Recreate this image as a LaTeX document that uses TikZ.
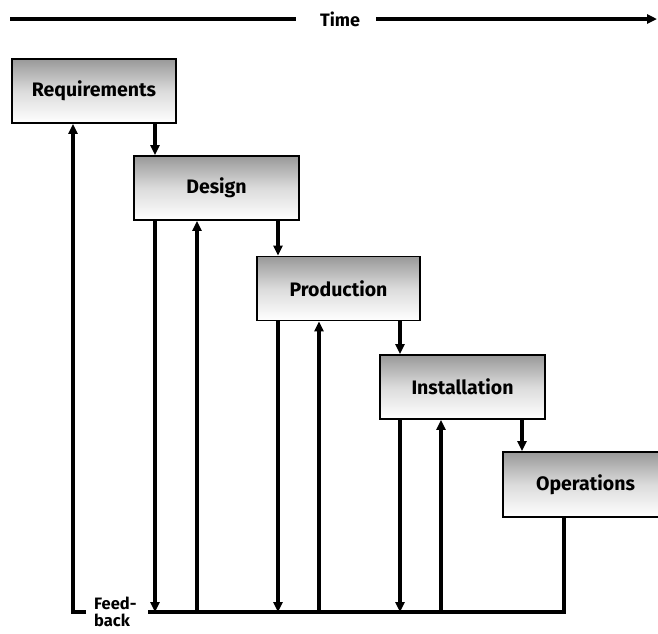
\documentclass[tikz,border=0pt]{standalone}
\usepackage{fontspec}
\setmainfont{Fira Sans}
\usetikzlibrary{arrows.meta}
\begin{document}
\begin{tikzpicture}[x=1pt,y=-1pt,
  stage/.style={draw=black,line width=1.8pt,top color=black!40,bottom color=white,middle color=black!14,
    minimum height=64pt,inner sep=0pt,font=\fontsize{19.5}{21}\selectfont\bfseries},
  line/.style={line width=3.4pt},
  arr/.style={line width=3.2pt,-{Triangle[length=10pt,width=9pt]}},
  lbl/.style={font=\fontsize{18}{18}\selectfont\bfseries,inner sep=0pt}]
\useasboundingbox (0,0) rectangle (658,633);
% time axis
\node[lbl] (time) at (340,19) {Time};
\coordinate (tl) at (10,19);
\coordinate (tr) at (657,19);
\draw[line] (tl) -- ([xshift=-24pt]time.west);
\draw[arr] ([xshift=16pt]time.east) -- (tr);
% stages
\node[stage,minimum width=164pt] (req) at (94,91) {Requirements};
\node[stage,minimum width=165pt] (des) at (216.5,188) {Design};
\node[stage,minimum width=163pt] (pro) at (338.5,288.5) {Production};
\node[stage,minimum width=165pt] (ins) at (462.5,387) {Installation};
\node[stage,minimum width=165pt,minimum height=65pt] (ops) at (585.5,484.5) {Operations};
% feedback bus coordinates
\coordinate (fL) at (73,612);
\coordinate (fLf) at (86,612);
\coordinate (d1) at (155,612);
\coordinate (u1) at (197,612);
\coordinate (d2) at (278,612);
\coordinate (u2) at (319,612);
\coordinate (d3) at (400,612);
\coordinate (u3) at (441,612);
\coordinate (fR) at (564,612);
\coordinate (fS) at (148,612);
\node[lbl,font=\fontsize{16.5}{16.5}\selectfont\bfseries,align=left,anchor=west] (fb) at (94,612) {Feed-\\back};
% forward arrows
\draw[arr] (req.south -| d1) -- (des.north -| d1);
\draw[arr] (des.south -| d2) -- (pro.north -| d2);
\draw[arr] (pro.south -| d3) -- (ins.north -| d3);
\draw[arr] (ins.south -| 522,0) -- (ops.north -| 522,0);
% down arrows to feedback bus
\draw[arr] (des.south -| d1) -- (d1);
\draw[arr] (pro.south -| d2) -- (d2);
\draw[arr] (ins.south -| d3) -- (d3);
% up arrows from feedback bus
\draw[arr] (u1) -- (des.south -| u1);
\draw[arr] (u2) -- (pro.south -| u2);
\draw[arr] (u3) -- (ins.south -| u3);
% bus
\draw[line,line join=miter] (ops.south -| fR) -- (fR) -- (fS);
\draw[arr,line join=miter] (fLf) -- (fL) -- (req.south -| fL);
\end{tikzpicture}
\end{document}
